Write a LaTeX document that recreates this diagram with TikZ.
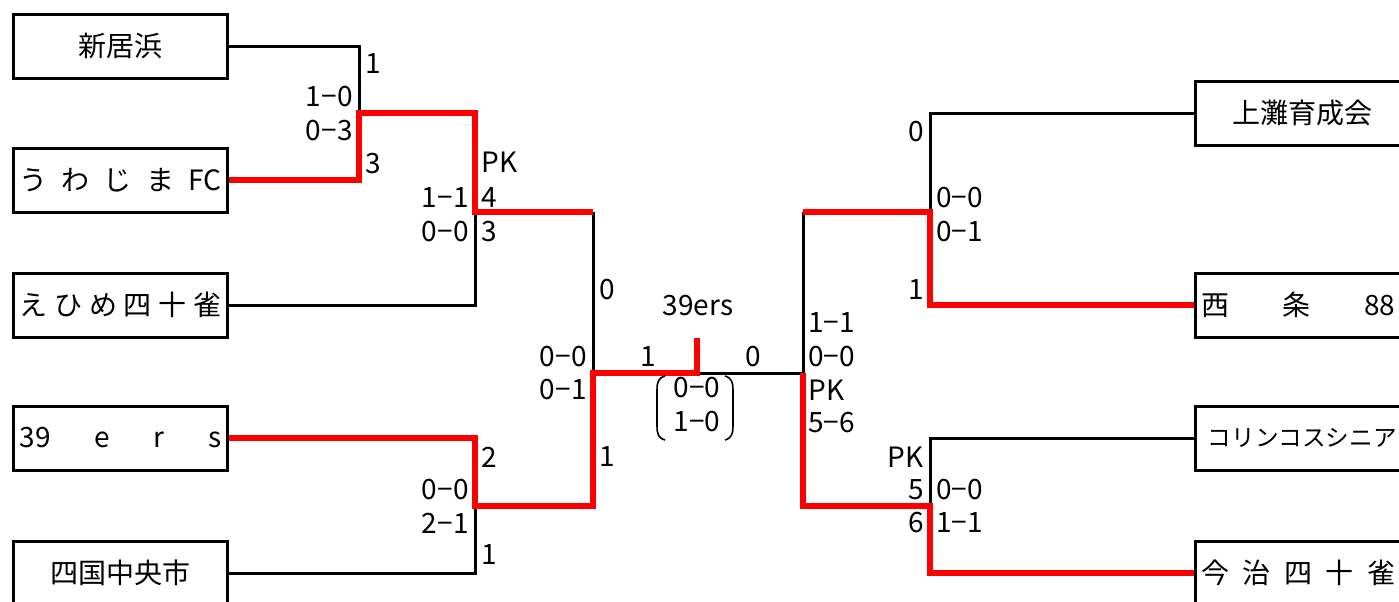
\documentclass[tikz,border=0pt]{standalone}
\usepackage{fontspec}
\usepackage{tikz}
\newfontfamily\jpfont{Noto Sans CJK JP}
\usetikzlibrary{positioning,calc}

\begin{document}
\begin{tikzpicture}[x=0.5pt,y=-0.5pt,
    team/.style={draw,line width=1.5pt,minimum width=107pt,minimum height=32pt,inner sep=0pt,font=\jpfont\fontsize{14}{17}\selectfont},
    score/.style={inner sep=2pt,font=\jpfont\fontsize{14}{17}\selectfont},
    lose/.style={line width=1.5pt},
    win/.style={red,line width=2.6pt}]
    \useasboundingbox (0,0) rectangle (1399,601);
    % left teams
    \node[team] (niihama) at (120.5,46) {新居浜};
    \node[team] (uwajima) at (120.5,180) {\makebox[101pt][s]{う わ じ ま FC}};
    \node[team] (ehime) at (120.5,305) {\makebox[101pt][s]{え ひ め 四 十 雀}};
    \node[team] (ers) at (120.5,438) {\makebox[101pt][s]{39 e r s}};
    \node[team] (shikoku) at (120.5,573) {四国中央市};
    % right teams
    \node[team] (kaminada) at (1302.25,113) {上灘育成会};
    \node[team] (saijo) at (1302.25,305) {\makebox[101pt][s]{西 条 88\hspace*{4pt}}};
    \node[team] (korin) at (1302.25,438) {\fontsize{11.8}{14}\selectfont コリンコスシニア};
    \node[team] (imabari) at (1302.25,573) {\makebox[101pt][s]{今 治 四 十 雀\hspace*{4pt}}};
    % joints
    \coordinate (m1) at (359,113);
    \coordinate (m2) at (475,212);
    \coordinate (m3) at (475,506);
    \coordinate (sf1) at (593,373);
    \coordinate (top) at (697,338);
    \coordinate (sf2) at (803,373);
    \coordinate (n1) at (930,212);
    \coordinate (n2) at (930,506);
    % losers
    \draw[lose] (niihama.east) -| (m1);
    \draw[lose] (ehime.east) -| (m2);
    \draw[lose] (shikoku.east) -| (m3);
    \draw[lose] (sf1) -- (sf1 |- m2);
    \draw[lose] (top |- sf1) -- (sf2) -- (sf2 |- n1);
    \draw[lose] (kaminada.west) -| (n1);
    \draw[lose] (korin.west) -| (n2);
    % winners
    \draw[win] (uwajima.east) -| (m1) -| (m2) -- (m2 -| sf1);
    \draw[win] (ers.east) -| (m3) -| (sf1) -| (top);
    \draw[win] (saijo.west) -| (n1) -- (n1 -| sf2);
    \draw[win] (imabari.west) -| (n2) -| (sf2);
    % left scores
    \node[score,anchor=west] (w1) at (361,64) {1};
    \node[score,anchor=east] (s1a) at (357,97) {1−0};
    \node[score,anchor=east] (s1b) at (357,131) {0−3};
    \node[score,anchor=west] (w2) at (361,164) {3};
    \node[score,anchor=west] (pk1) at (477,162) {PK};
    \node[score,anchor=east] (s2a) at (473,198) {1−1};
    \node[score,anchor=west] (w3) at (477,198) {4};
    \node[score,anchor=east] (s2b) at (473,232) {0−0};
    \node[score,anchor=west] (w4) at (477,232) {3};
    \node[score,anchor=west] (w5) at (595,290) {0};
    \node[score,anchor=east] (s3a) at (591,357) {0−0};
    \node[score,anchor=east] (s3b) at (591,390) {0−1};
    \node[score,anchor=west] (w6) at (595,457) {1};
    \node[score,anchor=west] (w7) at (477,457) {2};
    \node[score,anchor=east] (s4a) at (473,490) {0−0};
    \node[score,anchor=east] (s4b) at (473,523) {2−1};
    \node[score,anchor=west] (w8) at (477,555) {1};
    % final
    \node[score] (champ) at (698,306) {39ers};
    \node[score] (fl) at (648,357) {1};
    \node[score] (fr) at (753,357) {0};
    \node[score,align=center] (fs) at (697,405) {0−0\\1−0};
    \draw[line width=0.8pt] (665,376) .. controls (658,378) and (657,383) .. (657,390) -- (657,426) .. controls (657,433) and (658,438) .. (665,440);
    \draw[line width=0.8pt] (725,376) .. controls (732,378) and (733,383) .. (733,390) -- (733,426) .. controls (733,433) and (732,438) .. (725,440);
    % right scores
    \node[score,anchor=west] (s5a) at (804,323) {1−1};
    \node[score,anchor=west] (s5b) at (804,357) {0−0};
    \node[score,anchor=west] (pk3) at (804,390) {PK};
    \node[score,anchor=west] (s5c) at (804,423) {5−6};
    \node[score,anchor=east] (e1) at (928,132) {0};
    \node[score,anchor=west] (s6a) at (932,198) {0−0};
    \node[score,anchor=west] (s6b) at (932,232) {0−1};
    \node[score,anchor=east] (e2) at (928,290) {1};
    \node[score,anchor=east] (pk4) at (928,457) {PK};
    \node[score,anchor=east] (e3) at (928,490) {5};
    \node[score,anchor=west] (s7a) at (932,490) {0−0};
    \node[score,anchor=east] (e4) at (928,523) {6};
    \node[score,anchor=west] (s7b) at (932,523) {1−1};
\end{tikzpicture}
\end{document}
